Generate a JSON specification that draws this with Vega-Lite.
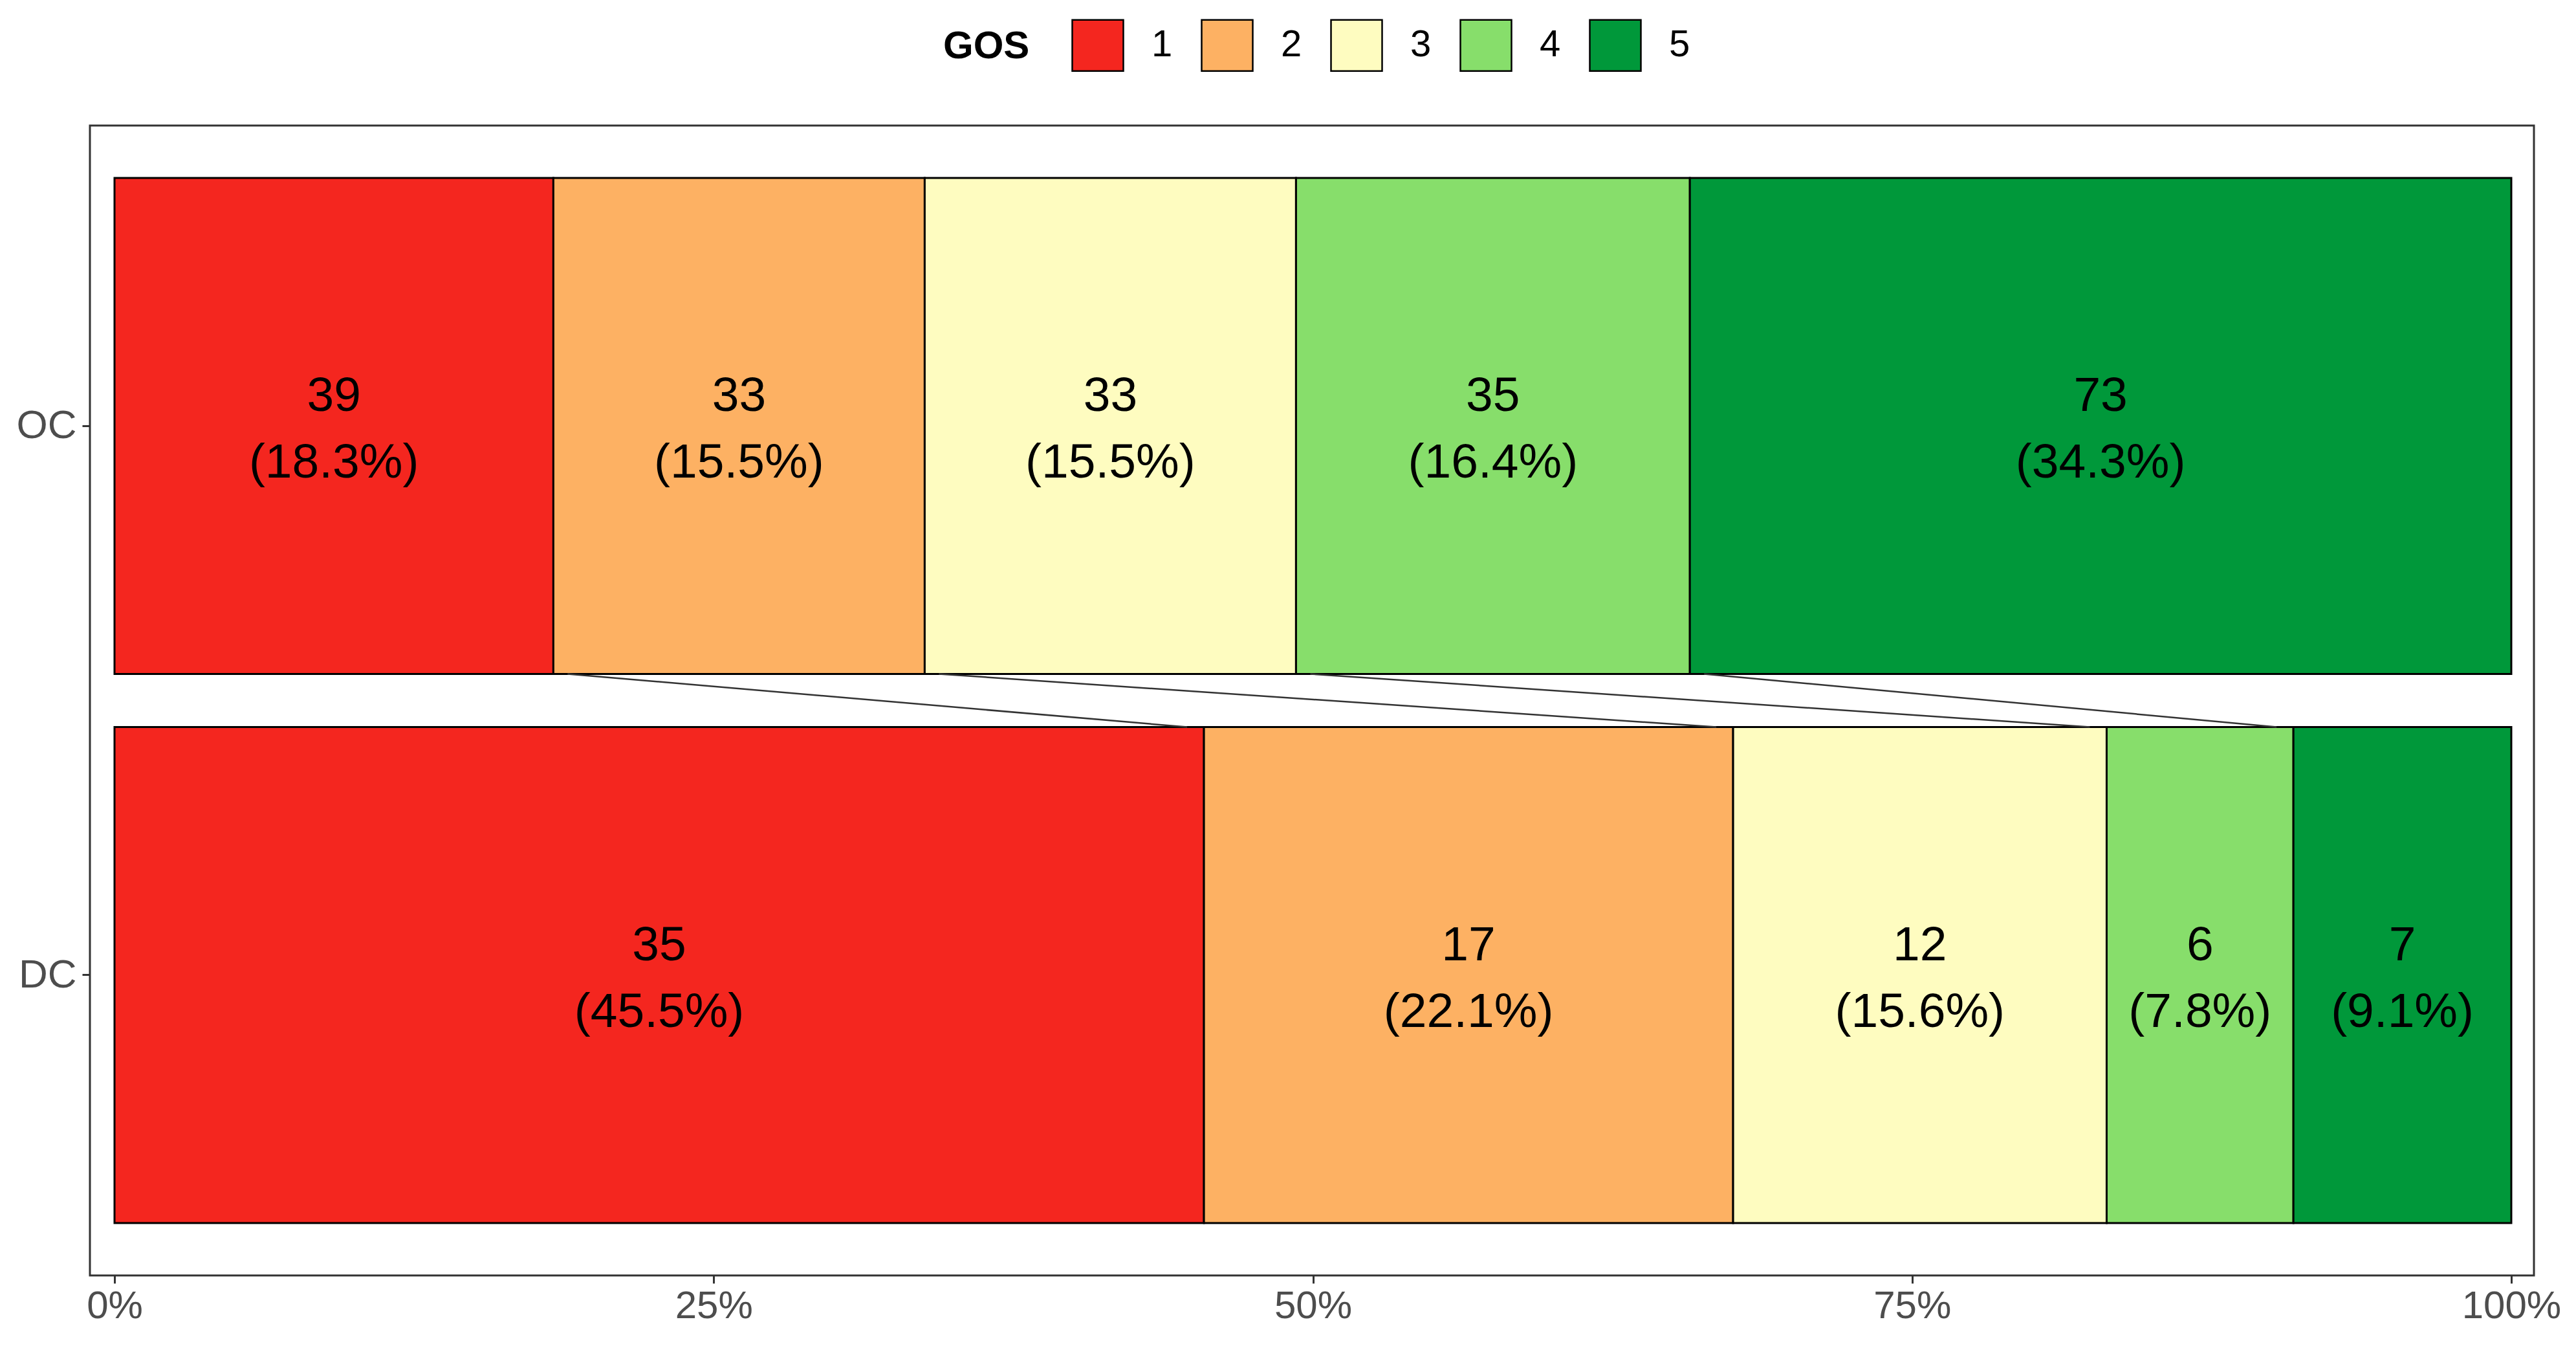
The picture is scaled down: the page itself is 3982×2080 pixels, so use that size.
{
  "$schema": "https://vega.github.io/schema/vega-lite/v6.json",
  "width": 3778,
  "height": 1777,
  "autosize": {"type": "none"},
  "padding": {"left": 139, "top": 194, "right": 65, "bottom": 109},
  "background": "white",
  "config": {
    "font": "Liberation Sans",
    "view": {"stroke": "#333333", "strokeWidth": 3},
    "axis": {"grid": false, "domain": false}
  },
  "data": {
    "values": [
      {"group": "OC", "gos": 1, "n": 39},
      {"group": "OC", "gos": 2, "n": 33},
      {"group": "OC", "gos": 3, "n": 33},
      {"group": "OC", "gos": 4, "n": 35},
      {"group": "OC", "gos": 5, "n": 73},
      {"group": "DC", "gos": 1, "n": 35},
      {"group": "DC", "gos": 2, "n": 17},
      {"group": "DC", "gos": 3, "n": 12},
      {"group": "DC", "gos": 4, "n": 6},
      {"group": "DC", "gos": 5, "n": 7}
    ]
  },
  "transform": [
    {"stack": "n", "groupby": ["group"], "sort": [{"field": "gos", "order": "ascending"}], "offset": "normalize", "as": ["x0", "x1"]}
  ],
  "encoding": {
    "y": {
      "field": "group",
      "type": "nominal",
      "scale": {"domain": ["OC", "DC"], "paddingInner": 0.0967, "paddingOuter": 0.0955},
      "axis": {"title": null, "labelFontSize": 62, "labelColor": "#4d4d4d", "tickColor": "#333333", "tickWidth": 3, "tickSize": 12, "labelPadding": 9}
    }
  },
  "layer": [
    {
      "mark": {"type": "bar", "stroke": "black", "strokeWidth": 3},
      "encoding": {
        "x": {
          "field": "x0",
          "type": "quantitative",
          "scale": {"domain": [-0.01026, 1.00945], "nice": false, "zero": false},
          "axis": {"title": null, "values": [0, 0.25, 0.5, 0.75, 1], "format": ".0%", "labelFontSize": 60, "labelColor": "#4d4d4d", "tickColor": "#333333", "tickWidth": 3, "tickSize": 12, "labelPadding": 6}
        },
        "x2": {"field": "x1"},
        "color": {
          "field": "gos",
          "type": "nominal",
          "scale": {"domain": [1, 2, 3, 4, 5], "range": ["#F4261F", "#FDB163", "#FEFCC0", "#87DE6B", "#00983A"]},
          "legend": {
            "orient": "none",
            "legendX": 1319,
            "legendY": -165,
            "direction": "horizontal",
            "title": "GOS",
            "titleOrient": "left",
            "titleFontSize": 60,
            "titleFontWeight": "bold",
            "titleColor": "black",
            "titlePadding": 64,
            "titleBaseline": "middle",
            "labelFontSize": 58,
            "labelColor": "black",
            "labelOffset": 42,
            "columnPadding": 39,
            "symbolType": "square",
            "symbolSize": 6240,
            "symbolStrokeColor": "black",
            "symbolStrokeWidth": 2.5,
            "symbolOpacity": 1
          }
        }
      }
    },
    {
      "transform": [
        {"filter": "datum.gos < 5"},
        {"pivot": "group", "value": "x1", "groupby": ["gos"]},
        {"calculate": "'OC'", "as": "top"},
        {"calculate": "'DC'", "as": "bot"}
      ],
      "mark": {"type": "rule", "stroke": "#333333", "strokeWidth": 2.5, "xOffset": 22, "x2Offset": -26},
      "encoding": {
        "x": {"field": "OC", "type": "quantitative"},
        "x2": {"field": "DC"},
        "y": {"field": "top", "type": "nominal", "bandPosition": 1},
        "y2": {"field": "bot", "bandPosition": 0}
      }
    },
    {
      "transform": [{"calculate": "(datum.x0 + datum.x1) / 2", "as": "xm"}],
      "mark": {"type": "text", "fontSize": 75, "color": "black", "baseline": "middle", "dy": -46},
      "encoding": {
        "x": {"field": "xm", "type": "quantitative"},
        "text": {"field": "n", "type": "quantitative"}
      }
    },
    {
      "transform": [
        {"calculate": "(datum.x0 + datum.x1) / 2", "as": "xm"},
        {"calculate": "'(' + format(datum.x1 - datum.x0, '.1%') + ')'", "as": "pct"}
      ],
      "mark": {"type": "text", "fontSize": 75, "color": "black", "baseline": "middle", "dy": 57},
      "encoding": {
        "x": {"field": "xm", "type": "quantitative"},
        "text": {"field": "pct", "type": "nominal"}
      }
    }
  ]
}
